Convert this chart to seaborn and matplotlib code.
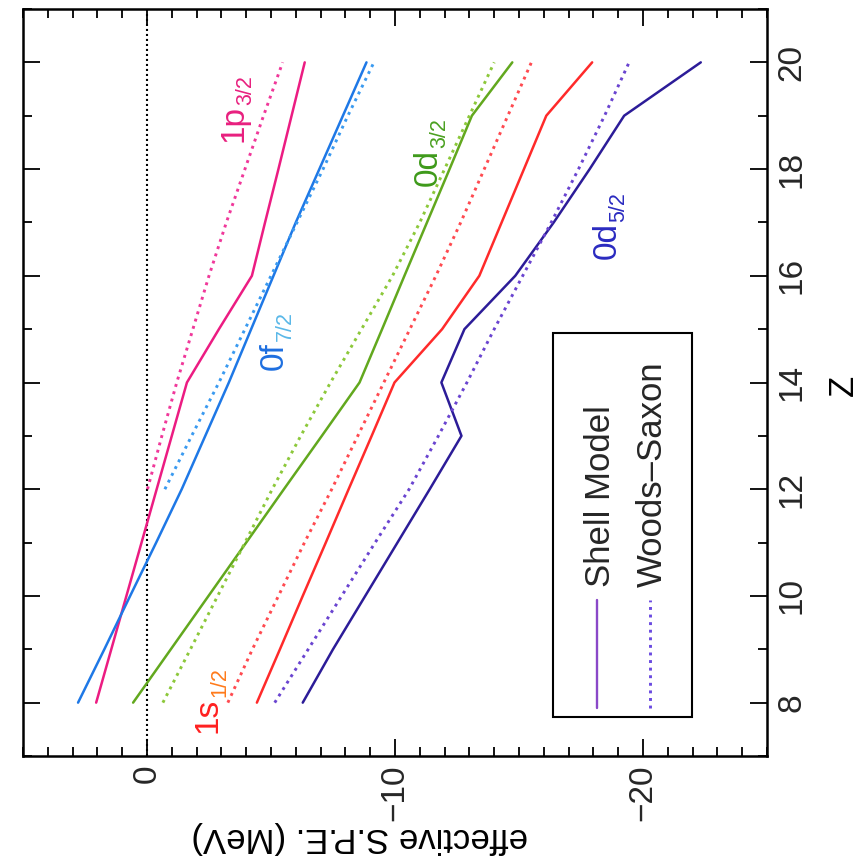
import matplotlib
matplotlib.use("Agg")
import matplotlib.pyplot as plt
import seaborn as sns
import pandas as pd
import numpy as np
from matplotlib.patches import Rectangle
from matplotlib.lines import Line2D

# ---------------- data ----------------
Z = [8, 9, 10, 11, 12, 13, 14, 15, 16, 17, 18, 19, 20]
Z_bound = [12, 13, 14, 15, 16, 17, 18, 19, 20]   # WS only where bound

sm_1p32 = [2.05, 1.44, 0.83, 0.22, -0.39, -1.0, -1.61, -2.9, -4.23, -4.76, -5.3, -5.83, -6.36]
ws_1p32 = [-0.02, -0.6, -1.2, -1.85, -2.5, -3.2, -3.95, -4.7, -5.47]

sm_0f72 = [2.78, 1.72, 0.68, -0.37, -1.4, -2.35, -3.3, -4.2, -5.1, -6.0, -6.95, -7.9, -8.85]
ws_0f72 = [-0.72, -1.8, -2.9, -3.95, -5.0, -6.05, -7.1, -8.1, -9.15]

sm_0d32 = [0.56, -0.96, -2.48, -4.0, -5.52, -7.05, -8.57, -9.48, -10.38, -11.29, -12.2, -13.1, -14.73]
ws_0d32 = [-0.64, -1.75, -2.85, -3.95, -5.05, -6.2, -7.4, -8.65, -9.9, -11.0, -12.0, -13.0, -14.0]

sm_1s12 = [-4.43, -5.36, -6.28, -7.21, -8.13, -9.06, -9.98, -11.9, -13.4, -14.3, -15.2, -16.1, -17.95]
ws_1s12 = [-3.26, -4.25, -5.3, -6.35, -7.45, -8.5, -9.55, -10.6, -11.65, -12.65, -13.6, -14.55, -15.5]

sm_0d52 = [-6.28, -7.5, -8.8, -10.1, -11.4, -12.68, -11.87, -12.8, -14.85, -16.4, -17.85, -19.24, -22.33]
ws_0d52 = [-5.15, -6.5, -7.85, -9.2, -10.57, -11.75, -12.9, -14.0, -15.15, -16.3, -17.4, -18.45, -19.44]

x_ticks = [0, -10, -20]
z_ticks = [8, 10, 12, 14, 16, 18, 20]
legend_labels = ["Shell Model", "Woods\u2013Saxon"]

# ---------------- style ----------------
sns.set_style("ticks")
plt.rcParams["font.family"] = ["Liberation Sans", "DejaVu Sans"]
plt.rcParams["axes.unicode_minus"] = True

fig = plt.figure(figsize=(8.61, 8.63), dpi=100)
W, H = 861, 863
ax = fig.add_axes([23 / W, 1 - 756 / H, (767 - 23) / W, (756 - 9) / H])

DOT = (0, (1.0, 1.6))
series = [
    (sm_1p32, Z, "#ec1c82", "-"), (ws_1p32, Z_bound, "#f0389a", DOT),
    (sm_0f72, Z, "#1e78e6", "-"), (ws_0f72, Z_bound, "#3a9af0", DOT),
    (sm_0d32, Z, "#62a81e", "-"), (ws_0d32, Z, "#8cc83a", DOT),
    (sm_1s12, Z, "#ff2a2a", "-"), (ws_1s12, Z, "#ff4a50", DOT),
    (sm_0d52, Z, "#2c1c98", "-"), (ws_0d52, Z, "#6a44d0", DOT),
]
for xs, zs, col, ls in series:
    df = pd.DataFrame({"E": xs, "Z": zs})
    sns.lineplot(data=df, x="E", y="Z", orient="y", sort=False, estimator=None,
                 color=col, linestyle=ls, linewidth=1.8 if ls == "-" else 2.1,
                 ax=ax)

ax.axvline(0, color="black", lw=1.5, linestyle=(0, (1.0, 1.4)), zorder=1)

ax.set_xlim(5, -25)
ax.set_ylim(7, 21)
ax.set_xlabel("")
ax.set_ylabel("")
ax.set_xticks(x_ticks)
ax.set_xticks(np.arange(-25, 6, 1), minor=True)
ax.set_yticks(z_ticks)
ax.set_yticks(np.arange(7, 22, 1), minor=True)

ax.tick_params(which="both", direction="in", top=True, bottom=True, left=True,
               right=True, labelleft=False, labelright=True, labelbottom=True,
               color="black", width=1.3)
ax.tick_params(which="major", length=12)
ax.tick_params(which="minor", length=6.5)
ax.tick_params(axis="x", labelrotation=90, labelsize=24, pad=6)
ax.tick_params(axis="y", labelrotation=90, labelsize=24, pad=7)
for lab in ax.get_yticklabels():
    lab.set_verticalalignment("center")
for sp in ax.spines.values():
    sp.set_color("black")
    sp.set_linewidth(1.8)

# axis titles (rotated like the reference)
fig.text(843 / W, 1 - 385 / H, "Z", rotation=90, ha="center", va="center",
         fontsize=25, color="black")
fig.text(360 / W, 1 - 837 / H, "effective S.P.E. (MeV)", rotation=180,
         ha="center", va="center", fontsize=25, color="black")


# curve labels: main part + subscript (possibly in a second colour)
def curve_label(xv, zv, main, sub, c1, c2, fs=24, sfs=15.5, drop=6.0):
    t = ax.text(xv, zv, main, rotation=90, rotation_mode="anchor", ha="left",
                va="baseline", color=c1, fontsize=fs)
    ax.annotate(sub, xy=(xv, 1.0), xycoords=("data", t), xytext=(drop, 0.3),
                textcoords="offset points", rotation=90, rotation_mode="anchor",
                ha="left", va="baseline", color=c2, fontsize=sfs)


curve_label(-3.86, 18.5, "1p", "3/2", "#e8207f", "#e8207f")
curve_label(-5.47, 14.24, "0f", "7/2", "#1e6fe0", "#5ab8e8")
curve_label(-11.67, 17.69, "0d", "3/2", "#3e9a1a", "#4aa020")
curve_label(-18.9, 16.31, "0d", "5/2", "#2a2ac0", "#2a2ac0")
curve_label(-2.82, 7.44, "1s", "1/2", "#ff2020", "#ff7a1a")


# legend box drawn rotated (axes-fraction coordinates)
def fx(px):
    return (px - 23) / 744


def fy(py):
    return (756 - py) / 747


ax.add_patch(Rectangle((fx(553), fy(717)), fx(692) - fx(553), fy(333) - fy(717),
                       transform=ax.transAxes, fill=True, facecolor="white",
                       edgecolor="black", lw=1.5, zorder=5))
ax.add_line(Line2D([fx(597), fx(597)], [fy(708), fy(600)], transform=ax.transAxes,
                   color="#8a48c8", lw=1.7, zorder=6))
ax.add_line(Line2D([fx(650), fx(650)], [fy(708), fy(600)], transform=ax.transAxes,
                   color="#6a4ae0", lw=2.1, linestyle=DOT, zorder=6))
ax.text(fx(610), fy(587), legend_labels[0], transform=ax.transAxes, rotation=90,
        rotation_mode="anchor", ha="left", va="baseline", fontsize=25, zorder=6)
ax.text(fx(662), fy(587), legend_labels[1], transform=ax.transAxes, rotation=90,
        rotation_mode="anchor", ha="left", va="baseline", fontsize=25, zorder=6)

fig.savefig("out.png", dpi=100, facecolor="white")
